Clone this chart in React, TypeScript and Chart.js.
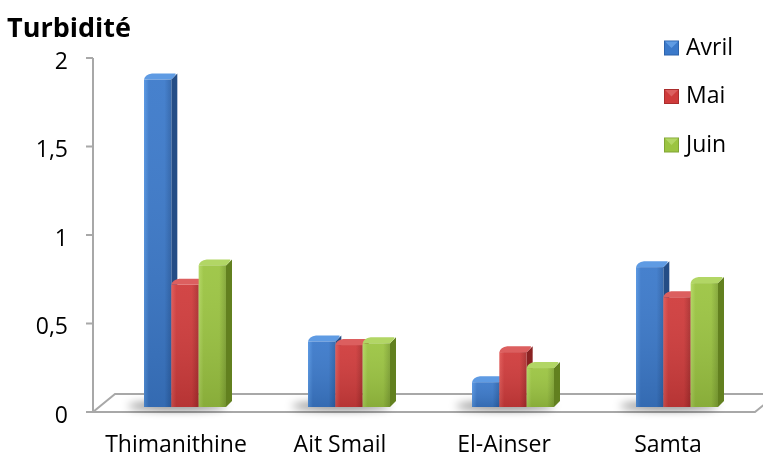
import React, { useEffect, useRef } from 'react';
import { Chart, registerables } from 'chart.js';

Chart.register(...registerables);

const categories = ['Thimanithine', 'Ait Smail', 'El-Ainser', 'Samta'];
const seriesNames = ['Avril', 'Mai', 'Juin'];
const avril = [1.85, 0.37, 0.14, 0.79];
const mai = [0.69, 0.35, 0.31, 0.62];
const juin = [0.8, 0.36, 0.22, 0.7];
const yTicks = [0, 0.5, 1, 1.5, 2];
const yTickLabels = ['0', '0,5', '1', '1,5', '2'];
const chartTitle = 'Turbidité';

const FONT = "'Open Sans', 'Noto Sans', sans-serif";

const palettes = [
  { light: '#5394e2', base: '#3b79ca', dark: '#2d63ab', side: '#244d86', top: '#5f9be3' },
  { light: '#e05553', base: '#cf3b3b', dark: '#aa2d2d', side: '#8a2222', top: '#dc5f5f' },
  { light: '#b0d65d', base: '#9bc441', dark: '#81a534', side: '#62801f', top: '#b2d665' },
];

const DX = 6;
const DY = 6;

function drawBar(ctx: CanvasRenderingContext2D, left: number, right: number, top: number, bottom: number, p: any) {
  // side face
  ctx.fillStyle = p.side;
  ctx.beginPath();
  ctx.moveTo(right, top);
  ctx.lineTo(right + DX, top - DY);
  ctx.lineTo(right + DX, bottom - DY);
  ctx.lineTo(right, bottom);
  ctx.closePath();
  ctx.fill();
  // top face
  ctx.fillStyle = p.top;
  ctx.beginPath();
  ctx.moveTo(left, top);
  ctx.quadraticCurveTo(left + 1, top - DY + 1, left + DX + 2, top - DY);
  ctx.lineTo(right + DX - 2, top - DY);
  ctx.quadraticCurveTo(right + DX, top - DY, right, top);
  ctx.closePath();
  ctx.fill();
  // front face
  const g = ctx.createLinearGradient(left, 0, right, 0);
  g.addColorStop(0, p.light);
  g.addColorStop(0.18, p.base);
  g.addColorStop(0.75, p.base);
  g.addColorStop(1, p.dark);
  ctx.fillStyle = g;
  ctx.fillRect(left, top, right - left, bottom - top);
  const v = ctx.createLinearGradient(0, top, 0, bottom);
  v.addColorStop(0, 'rgba(255,255,255,0.06)');
  v.addColorStop(1, 'rgba(0,0,0,0.12)');
  ctx.fillStyle = v;
  ctx.fillRect(left, top, right - left, bottom - top);
}

const bar3dPlugin = {
  id: 'bar3d',
  beforeDatasetsDraw(chart: any) {
    const { ctx, chartArea, scales } = chart;
    const y = scales.y;
    const y0 = y.getPixelForValue(0);
    const axisX = chartArea.left - 10;
    const frontY = y0 + 5;
    const backY = y0 - 13;
    const depthX = 22;
    const w = chart.width;

    ctx.save();
    // floor
    ctx.strokeStyle = '#a8a8a8';
    ctx.lineWidth = 2;
    ctx.beginPath();
    ctx.moveTo(w + 10, backY);
    ctx.lineTo(axisX + depthX, backY);
    ctx.lineTo(axisX, frontY);
    ctx.lineTo(chartArea.right - 4, frontY);
    ctx.lineTo(chartArea.right - 4 + depthX, backY);
    ctx.stroke();

    // value axis
    ctx.beginPath();
    ctx.moveTo(axisX, y.getPixelForValue(yTicks[yTicks.length - 1]) + 5);
    ctx.lineTo(axisX, frontY);
    yTicks.forEach((t) => {
      const py = y.getPixelForValue(t) + 5;
      ctx.moveTo(axisX - 7, py);
      ctx.lineTo(axisX, py);
    });
    ctx.stroke();

    // shadows
    const metas = chart.data.datasets.map((_: any, i: number) => chart.getDatasetMeta(i));
    categories.forEach((_, ci) => {
      const first = metas[0].data[ci].getProps(['x', 'width', 'base'], true);
      const last = metas[metas.length - 1].data[ci].getProps(['x', 'width', 'base'], true);
      const l = first.x - first.width / 2;
      const r = last.x + last.width / 2;
      ctx.save();
      ctx.filter = 'blur(4px)';
      ctx.fillStyle = 'rgba(0,0,0,0.5)';
      ctx.beginPath();
      ctx.ellipse((l - 16 + r) / 2, first.base - 1, (r - l + 16) / 2, 4, 0, 0, Math.PI * 2);
      ctx.fill();
      ctx.restore();
    });

    // bars
    categories.forEach((_, ci) => {
      metas.forEach((meta: any, di: number) => {
        const el = meta.data[ci];
        const { x, y: top, base, width } = el.getProps(['x', 'y', 'base', 'width'], true);
        drawBar(ctx, x - width / 2, x + width / 2, top, base, palettes[di]);
      });
    });
    ctx.restore();
    return false;
  },
  afterDraw(chart: any) {
    const { ctx } = chart;
    ctx.save();
    // title
    ctx.fillStyle = '#000';
    ctx.font = `bold 27px ${FONT}`;
    ctx.textAlign = 'left';
    ctx.textBaseline = 'alphabetic';
    ctx.fillText(chartTitle, 7, 37);
    // legend
    ctx.font = `23px ${FONT}`;
    ctx.textBaseline = 'middle';
    seriesNames.forEach((name, i) => {
      const cy = 48 + i * 48.5;
      const p = palettes[i];
      const mx = 664;
      const s = 15;
      const my = cy - s / 2;
      ctx.fillStyle = p.dark;
      ctx.fillRect(mx, my, s, s);
      ctx.fillStyle = p.base;
      ctx.fillRect(mx + 1, my + 1, s - 2, s - 2);
      ctx.fillStyle = p.top;
      ctx.beginPath();
      ctx.moveTo(mx + 1, my + 1);
      ctx.lineTo(mx + s - 1, my + 1);
      ctx.lineTo(mx + s / 2, my + s / 2);
      ctx.closePath();
      ctx.fill();
      ctx.fillStyle = '#000';
      ctx.fillText(name, 686, cy);
    });
    ctx.restore();
  },
};

export default function App() {
  const ref = useRef<HTMLCanvasElement>(null);
  useEffect(() => {
    document.body.style.margin = '0';
    const series = [avril, mai, juin];
    const chart = new Chart(ref.current as HTMLCanvasElement, {
      type: 'bar',
      data: {
        labels: categories,
        datasets: seriesNames.map((name, i) => ({
          label: name,
          data: series[i],
          backgroundColor: palettes[i].base,
          categoryPercentage: 0.5,
          barPercentage: 1.0,
        })),
      },
      options: {
        responsive: false,
        animation: false,
        devicePixelRatio: 1,
        layout: { padding: { top: 53, right: 4, left: 0, bottom: 0 } },
        plugins: {
          legend: { display: false },
          title: { display: false },
          tooltip: { enabled: false },
        },
        scales: {
          x: {
            grid: { display: false, drawTicks: false },
            border: { display: false },
            ticks: { padding: 25, labelOffset: -9, color: '#000', font: { size: 23, family: FONT } },
            afterFit(scale: any) {
              scale.height = 53;
            },
          },
          y: {
            min: 0,
            max: 2,
            afterBuildTicks(scale: any) {
              scale.ticks = yTicks.map((v) => ({ value: v }));
            },
            grid: { display: false, drawTicks: false },
            border: { display: false },
            ticks: {
              padding: 35,
              labelOffset: 9,
              color: '#000',
              font: { size: 23, family: FONT },
              callback: (v: any) => {
                const idx = yTicks.indexOf(Number(v));
                return idx >= 0 ? yTickLabels[idx] : '';
              },
            },
            afterFit(scale: any) {
              scale.width = 103;
            },
          },
        },
      },
      plugins: [bar3dPlugin],
    } as any);
    return () => chart.destroy();
  }, []);
  return (
    <div style={{ width: 763, height: 460 }}>
      <canvas ref={ref} width={763} height={460} style={{ display: 'block' }} />
    </div>
  );
}
